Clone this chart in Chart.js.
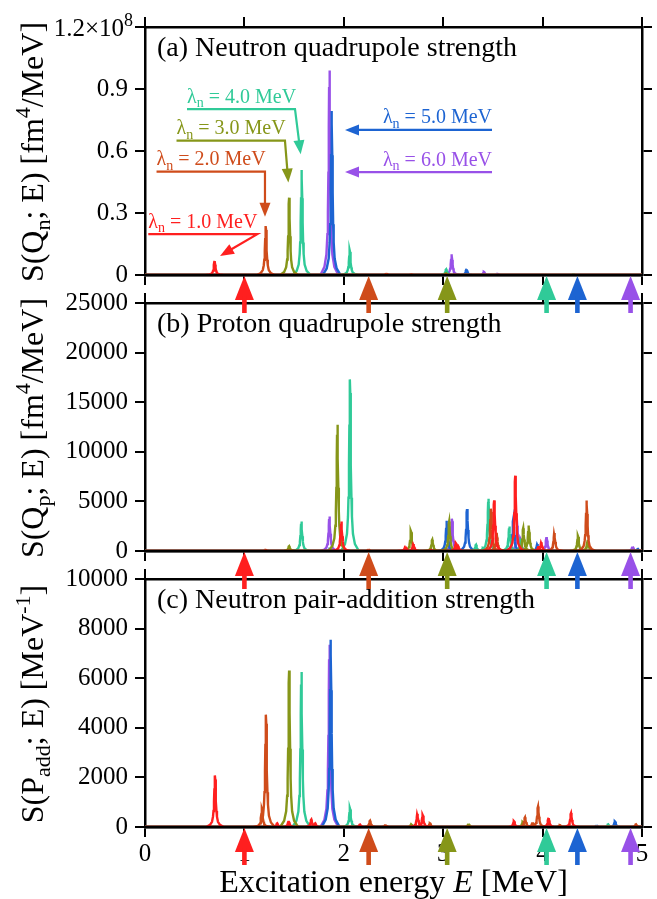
<!DOCTYPE html>
<html>
<head>
<meta charset="utf-8">
<script src="https://cdn.jsdelivr.net/npm/chart.js@4.4.1/dist/chart.umd.min.js"></script>
<style>
  html, body { margin: 0; padding: 0; background: #fff; }
  #wrap { position: relative; width: 657px; height: 899px; }
  #wrap canvas { position: absolute; left: 0; top: 0; }
</style>
</head>
<body>
<div id="wrap">
  <canvas id="panelC" width="657" height="899"></canvas>
  <canvas id="panelB" width="657" height="899"></canvas>
  <canvas id="panelA" width="657" height="899"></canvas>
</div>
<script>
// neutron chemical potentials, one curve each
var lambdas = ['1.0', '2.0', '3.0', '4.0', '5.0', '6.0'];
var lineColors = ['#ff1f1f', '#cf4c1b', '#869619', '#30ca98', '#1d64d2', '#9851e8'];
// threshold arrows under every panel (MeV)
var arrowEnergy = [1.0, 2.25, 3.04, 4.04, 4.35, 4.885];

// (a) neutron quadrupole strength, in units of 1e8 fm^4/MeV
var qnEnergy = [
  [0.70],
  [1.215, 2.43, 2.68],
  [1.45, 3.03],
  [1.576, 2.06, 3.03, 4.31],
  [1.878, 3.235],
  [1.855, 3.085, 3.41, 3.55]
];
var qnStrength = [
  [0.068],
  [0.237, 0.006, 0.003],
  [0.374, 0.008],
  [0.508, 0.121, 0.028, 0.004],
  [0.794, 0.028],
  [0.989, 0.100, 0.015, 0.005]
];

// (b) proton quadrupole strength, fm^4/MeV
var qpEnergy = [
  [1.975, 2.62, 2.70, 2.88, 3.128, 3.15, 3.513, 3.725, 3.96, 3.987],
  [1.217, 2.25, 3.48, 3.537, 4.118, 4.443],
  [1.45, 1.935, 2.676, 2.89, 3.06, 3.805, 3.86, 4.356, 4.453],
  [1.573, 2.062, 3.33, 3.40, 3.455, 3.665, 3.78],
  [1.86, 3.035, 3.24, 3.705, 3.947, 4.96],
  [1.855, 3.088, 3.745, 3.78, 4.04, 4.906]
];
var qpStrength = [
  [2980, 460, 700, 100, 800, 500, 5100, 7590, 500, 870],
  [100, 150, 4260, 1850, 1810, 5100],
  [500, 12730, 2050, 1140, 2980, 2300, 2580, 1540, 1140],
  [2980, 17300, 630, 300, 5270, 2480, 1000],
  [200, 3050, 4230, 3220, 700, 200],
  [3490, 3250, 2550, 1200, 1410, 460]
];

// (c) neutron pair-addition strength, 1/MeV
var paddEnergy = [
  [0.704, 1.33, 1.445, 1.673, 1.713, 2.163, 2.74, 2.794, 3.712, 4.06, 4.286],
  [1.177, 1.217, 2.264, 2.42, 2.867, 3.823, 3.9, 3.954, 4.175, 4.94],
  [1.45, 2.68, 3.256, 3.80],
  [1.573, 2.062, 4.66],
  [1.868, 4.544, 4.728],
  [1.855]
];
var paddStrength = [
  [2080, 150, 250, 300, 150, 100, 535, 495, 240, 360, 565],
  [725, 4530, 250, 80, 150, 390, 190, 830, 80, 110],
  [6310, 120, 130, 200],
  [6250, 765, 110],
  [7550, 60, 225],
  [7350]
];

// narrow resonance profile used to draw each level (offset in MeV, fraction of height)
var peakShape = [[-0.09, 0], [-0.05, 0.04], [-0.03, 0.1], [-0.02, 0.2], [-0.015, 0.31], [-0.01, 0.5],
                 [-0.006, 0.73], [-0.003, 0.92], [0, 1], [0.003, 0.92], [0.006, 0.73], [0.01, 0.5],
                 [0.015, 0.31], [0.02, 0.2], [0.03, 0.1], [0.05, 0.04], [0.09, 0]];

var SERIF = "'Liberation Serif', 'Times New Roman', serif";
Chart.defaults.font.family = SERIF;

function spectrum(es, ss) {
  var pts = [{x: 0, y: 0}, {x: 5, y: 0}];
  es.forEach(function(e, i) {
    pts.push({x: e, y: null});
    peakShape.forEach(function(p) {
      pts.push({x: e + p[0], y: ss[i] * p[1]});
    });
  });
  return pts;
}

// draws text made of pieces, some of them sub- or superscript
function richText(ctx, parts, x, y, size, align) {
  function fontOf(kind) {
    if (kind === 'sub' || kind === 'sup') return Math.round(size * 0.7) + 'px ' + SERIF;
    if (kind === 'it') return 'italic ' + size + 'px ' + SERIF;
    return size + 'px ' + SERIF;
  }
  var widths = parts.map(function(p) { ctx.font = fontOf(p[1]); return ctx.measureText(p[0]).width; });
  var total = widths.reduce(function(a, b) { return a + b; }, 0);
  var cx = align === 'center' ? x - total / 2 : (align === 'right' ? x - total : x);
  ctx.textAlign = 'left';
  ctx.textBaseline = 'alphabetic';
  parts.forEach(function(p, i) {
    ctx.font = fontOf(p[1]);
    var dy = p[1] === 'sub' ? size * 0.22 : (p[1] === 'sup' ? -size * 0.4 : 0);
    ctx.fillText(p[0], cx, y + dy);
    cx += widths[i];
  });
}

function arrowLine(ctx, pts, color, headLen, headW) {
  ctx.save();
  ctx.strokeStyle = color;
  ctx.fillStyle = color;
  ctx.lineWidth = 2.2;
  var n = pts.length;
  var ax = pts[n - 1][0], ay = pts[n - 1][1];
  var bx = pts[n - 2][0], by = pts[n - 2][1];
  var ang = Math.atan2(ay - by, ax - bx);
  ctx.beginPath();
  ctx.moveTo(pts[0][0], pts[0][1]);
  for (var i = 1; i < n - 1; i++) ctx.lineTo(pts[i][0], pts[i][1]);
  ctx.lineTo(ax - Math.cos(ang) * headLen * 0.8, ay - Math.sin(ang) * headLen * 0.8);
  ctx.stroke();
  ctx.beginPath();
  ctx.moveTo(ax, ay);
  ctx.lineTo(ax - Math.cos(ang) * headLen - Math.sin(ang) * headW / 2, ay - Math.sin(ang) * headLen + Math.cos(ang) * headW / 2);
  ctx.lineTo(ax - Math.cos(ang) * headLen + Math.sin(ang) * headW / 2, ay - Math.sin(ang) * headLen - Math.cos(ang) * headW / 2);
  ctx.closePath();
  ctx.fill();
  ctx.restore();
}

var decor = {
  id: 'decor',
  afterDraw: function(chart) {
    var ctx = chart.ctx, area = chart.chartArea, o = chart.options.plugins.decor;
    var xs = chart.scales.x, ys = chart.scales.y;
    ctx.save();

    // energy axis redrawn over the zero baselines of the curves
    ctx.strokeStyle = '#000';
    ctx.lineWidth = 2.5;
    ctx.beginPath();
    ctx.moveTo(area.left, area.bottom);
    ctx.lineTo(area.right, area.bottom);
    ctx.stroke();

    ctx.fillStyle = '#000';

    // panel title
    ctx.font = '28px ' + SERIF;
    ctx.textAlign = 'left';
    ctx.textBaseline = 'alphabetic';
    ctx.fillText(o.title, area.left + 12, area.top + 29);

    // y axis title, rotated
    ctx.save();
    ctx.translate(43, (area.top + area.bottom) / 2 + 1);
    ctx.rotate(-Math.PI / 2);
    richText(ctx, o.yTitle, 0, 0, 32, 'center');
    ctx.restore();

    if (o.xTitle) {
      richText(ctx, o.xTitle, (area.left + area.right) / 2, 892, 32, 'center');
    }

    if (o.topLabel) {
      var ty = ys.getPixelForValue(ys.max);
      richText(ctx, o.topLabel, 133, ty + 8.5, 25, 'right');
    }

    if (o.notes) {
      o.notes.forEach(function(nt) {
        var pts = nt.pts.map(function(p) { return [xs.getPixelForValue(p[0]), ys.getPixelForValue(p[1])]; });
        ctx.fillStyle = lineColors[nt.i];
        richText(ctx, [['\u03bb', ''], ['n', 'sub'], [' = ' + lambdas[nt.i] + ' MeV', '']],
                 pts[0][0], pts[0][1] - 6.5, 20, nt.right ? 'right' : 'left');
        arrowLine(ctx, pts, lineColors[nt.i], 14, 11);
      });
    }

    // threshold arrows pointing at the energy axis
    arrowEnergy.forEach(function(e, i) {
      var x = xs.getPixelForValue(e), y = area.bottom + 1;
      ctx.fillStyle = lineColors[i];
      ctx.beginPath();
      ctx.moveTo(x, y);
      ctx.lineTo(x - 9.5, y + 24);
      ctx.lineTo(x + 9.5, y + 24);
      ctx.closePath();
      ctx.fill();
      ctx.fillRect(x - 2.3, y + 20, 4.6, 17);
    });
    ctx.restore();
  }
};

function axisX(pos, labels) {
  return {
    type: 'linear', position: pos, min: 0, max: 5,
    afterFit: function(s) { s.height = labels ? 40 : 0; },
    ticks: { stepSize: 1, display: labels, color: '#000', font: { size: 25 }, padding: 2, maxRotation: 0 },
    grid: { drawOnChartArea: false, tickLength: 10, color: '#000', lineWidth: 2 },
    border: { color: '#000', width: 2.5 }
  };
}

function axisY(pos, max, step, fmt) {
  return {
    type: 'linear', position: pos, min: 0, max: max,
    afterFit: function(s) { s.width = pos === 'left' ? 145 : 0; },
    ticks: { stepSize: step, display: pos === 'left', color: '#000', font: { size: 25 }, padding: 7, callback: fmt },
    grid: { drawOnChartArea: false, tickLength: 10, color: '#000', lineWidth: 2 },
    border: { color: '#000', width: 2.5 }
  };
}

function makePanel(id, top, bottom, energies, strengths, ymax, step, fmt, deco) {
  var withLabels = !!deco.xTitle;
  return new Chart(document.getElementById(id), {
    type: 'line',
    data: {
      datasets: lambdas.map(function(l, i) {
        return {
          label: '\u03bbn = ' + l + ' MeV',
          data: spectrum(energies[i], strengths[i]),
          borderColor: lineColors[i],
          borderWidth: 2.4,
          pointRadius: 0,
          tension: 0,
          spanGaps: false
        };
      })
    },
    options: {
      responsive: false,
      animation: false,
      events: [],
      layout: { padding: { left: 0, right: 15, top: top, bottom: 899 - bottom - (withLabels ? 40 : 0) } },
      plugins: { legend: { display: false }, tooltip: { enabled: false }, decor: deco },
      scales: {
        x: axisX('bottom', withLabels),
        xTop: axisX('top', false),
        y: axisY('left', ymax, step, fmt),
        yRight: axisY('right', ymax, step, fmt)
      }
    },
    plugins: [decor]
  });
}

makePanel('panelA', 27, 275, qnEnergy, qnStrength, 1.2, 0.3,
  function(v) { return v === 0 ? '0' : (v >= 1.19 ? '' : v.toFixed(1)); },
  {
    title: '(a) Neutron quadrupole strength',
    yTitle: [['S(Q', ''], ['n', 'sub'], ['; E) [fm', ''], ['4', 'sup'], ['/MeV]', '']],
    topLabel: [['1.2\u00d710', ''], ['8', 'sup']],
    notes: [
      { i: 3, pts: [[0.4225, 0.803], [1.509, 0.803], [1.566, 0.584]] },
      { i: 2, pts: [[0.317, 0.650], [1.408, 0.650], [1.442, 0.447]] },
      { i: 1, pts: [[0.116, 0.500], [1.207, 0.500], [1.207, 0.282]] },
      { i: 0, pts: [[0.033, 0.198], [1.130, 0.198], [0.755, 0.092]] },
      { i: 4, right: true, pts: [[3.491, 0.702], [2.012, 0.702]] },
      { i: 5, right: true, pts: [[3.491, 0.498], [2.012, 0.498]] }
    ]
  });

makePanel('panelB', 303, 551, qpEnergy, qpStrength, 25000, 5000,
  function(v) { return String(v); },
  {
    title: '(b) Proton quadrupole strength',
    yTitle: [['S(Q', ''], ['p', 'sub'], ['; E) [fm', ''], ['4', 'sup'], ['/MeV]', '']]
  });

makePanel('panelC', 579, 827, paddEnergy, paddStrength, 10000, 2000,
  function(v) { return String(v); },
  {
    title: '(c) Neutron pair-addition strength',
    yTitle: [['S(P', ''], ['add', 'sub'], ['; E) [MeV', ''], ['-1', 'sup'], [']', '']],
    xTitle: [['Excitation energy ', ''], ['E', 'it'], [' [MeV]', '']]
  });
</script>
</body>
</html>
